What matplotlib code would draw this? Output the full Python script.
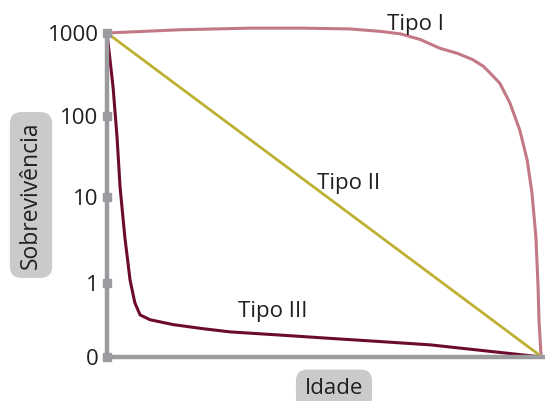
import matplotlib.pyplot as plt

plt.rcParams['font.family'] = ['Open Sans', 'DejaVu Sans']

# survival on a log-like scale: 0 -> "0", 4 -> "1000"
tick_labels = ['0', '1', '10', '100', '1000']
tick_pos = [0, 0.91, 1.98, 2.98, 4]

# Tipo I
age_1 = [0, 0.168, 0.329, 0.45, 0.559, 0.628, 0.674, 0.72, 0.766, 0.805, 0.841, 0.865,
         0.880, 0.903, 0.926, 0.949, 0.966, 0.977, 0.986, 0.991, 0.993, 0.998]
surv_1 = [4.0, 4.04, 4.06, 4.06, 4.05, 4.02, 3.99, 3.92, 3.81, 3.75, 3.67, 3.59,
          3.51, 3.38, 3.14, 2.80, 2.43, 2.02, 1.48, 0.86, 0.46, 0.0]

# Tipo II
age_2 = [0, 1.0]
surv_2 = [4, 0]

# Tipo III
age_3 = [0, 0.014, 0.023, 0.030, 0.041, 0.053, 0.064, 0.076, 0.099, 0.152, 0.22, 0.283,
         0.4, 0.513, 0.63, 0.743, 0.82, 0.897, 1.0]
surv_3 = [4.0, 3.33, 2.72, 2.10, 1.48, 0.95, 0.67, 0.52, 0.46, 0.40, 0.35, 0.31,
          0.27, 0.23, 0.19, 0.15, 0.105, 0.06, 0.0]

grey = '#9b9b9f'
ink = '#231f20'

fig = plt.figure(figsize=(5.45, 4.01), dpi=100)
ax = fig.add_axes([107 / 545, 44 / 401, 435 / 545, 324 / 401])
ax.set_xlim(0, 1)
ax.set_ylim(0, 4)

ax.plot(age_1, surv_1, color='#c27985', lw=2.2, clip_on=False,
        solid_capstyle='round', solid_joinstyle='round')
ax.plot(age_2, surv_2, color='#bdb032', lw=2.0, clip_on=False)
ax.plot(age_3, surv_3, color='#6c0b2c', lw=2.2, clip_on=False,
        solid_capstyle='round', solid_joinstyle='round')

for s in ['top', 'right']:
    ax.spines[s].set_visible(False)
ax.spines['left'].set_color(grey)
ax.spines['left'].set_linewidth(3.2)
ax.spines['bottom'].set_color(grey)
ax.spines['bottom'].set_linewidth(3.2)
ax.spines['bottom'].set_bounds(0, 1.01)

ax.set_xticks([])
ax.set_yticks(tick_pos)
ax.set_yticklabels(tick_labels, fontsize=16, color=ink)
ax.tick_params(axis='y', length=0, pad=6)
ax.plot([0] * len(tick_pos), tick_pos, 's', color=grey, ms=6, clip_on=False, zorder=5)

ax.text(0.644, 3.98, 'Tipo I', fontsize=16, color=ink, va='bottom', ha='left')
ax.text(0.483, 2.14, 'Tipo II', fontsize=16, color=ink, va='center', ha='left')
ax.text(0.30, 0.56, 'Tipo III', fontsize=16, color=ink, va='center', ha='left')

box = dict(boxstyle='round,pad=0.4,rounding_size=0.5', fc='#cacacc', ec='none')
fig.text(31 / 545, 1 - 195 / 401, 'Sobrevivência', rotation=90, fontsize=16.5, color=ink,
         ha='center', va='center', bbox=box)
fig.text(334 / 545, 1 - 389 / 401, 'Idade', fontsize=16, color=ink,
         ha='center', va='center', bbox=box)

fig.savefig('out.png', dpi=100)
